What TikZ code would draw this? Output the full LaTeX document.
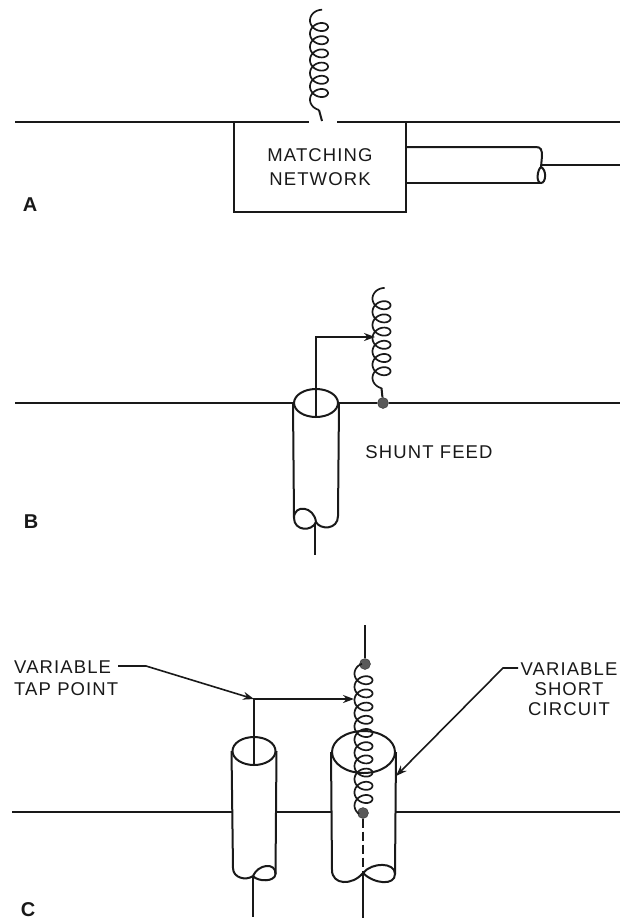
\documentclass[tikz,border=0pt]{standalone}
\usepackage{fontspec}
\setmainfont[LetterSpace=6]{Liberation Sans}
\usetikzlibrary{shapes.geometric,arrows.meta}
\tikzset{
wire/.style={line width=2pt,black!90},
leader/.style={line width=1.6pt,black!90,-{Stealth[length=11pt,width=8pt]}},
lettering/.style={font=\fontsize{18.5}{20}\selectfont,text=black!90,inner sep=0pt,align=center},
tag/.style={font=\fontsize{20}{20}\selectfont\bfseries,text=black!90,inner sep=0pt},
disc/.style={draw,ellipse,line width=2pt,black!90,inner sep=0pt},
feedpoint/.style={circle,fill=black!65,draw=black!80,inner sep=0pt,minimum size=11pt}
}
% #1 axis, #2 height of the first turn, #3 and #4 first and last angle
\newcommand{\coil}[4]{
\draw[wire,line width=1.7pt,domain=#3:#4,samples=300,variable=\t]
plot ({#1+9*cos(\t)},{#2+\t/360*13.2-7*sin(\t)});
}
\begin{document}
\begin{tikzpicture}[x=1pt,y=-1pt]
\useasboundingbox[fill=white] (0,0) rectangle (620,922);

% A
\node[minimum width=172pt,minimum height=90pt,lettering] (network) at (320,167) {MATCHING\\[3.5pt]NETWORK};
\draw[wire] (network.north west) -- (network.south west) -- (network.south east) -- (network.north east);
\coordinate (aLeft) at (15,122);
\coordinate (aGapL) at (309,122);
\coordinate (aGapR) at (337,122);
\coordinate (aRight) at (620,122);
\draw[wire] (aLeft) -- (aGapL);
\draw[wire] (aGapR) -- (aRight);
\coil{319}{13.8}{70}{2430}
\coordinate (aCoilEnd) at (319,110);
\coordinate (aCoilFoot) at (322,121);
\draw[wire] (aCoilEnd) -- (aCoilFoot);
\coordinate (aOuterT) at (406,147);
\coordinate (aOuterB) at (406,183);
\coordinate (aInner) at (620,165);
\draw[wire] (aOuterT) -- (536,147) .. controls (541,147) and (542,150) .. (542,156) -- (541,167)
.. controls (537,170) and (536,183) .. (541,183) .. controls (546,183) and (547,170) .. (541,167);
\draw[wire] (aOuterB) -- (541,183);
\draw[wire] (542,165) -- (aInner);
\node[tag] (tagA) at (30,205) {A};

% B
\node[disc,minimum width=44pt,minimum height=28pt] (discB) at (316,403) {};
\coordinate (bLeft) at (15,403);
\coordinate (bRight) at (620,403);
\node[feedpoint] (shortB) at (383,403) {};
\draw[wire] (bLeft) -- (discB.west);
\draw[wire] (discB.east) -- (shortB) -- (bRight);
\coil{381.5}{292}{70}{2430}
\coordinate (bCoilEnd) at (381.5,388);
\draw[wire] (bCoilEnd) -- (shortB);
\coordinate (bTap) at (375,337);
\coordinate (bBend) at (316,337);
\draw[leader,line width=2pt] (discB.south) -- (bBend) -- (bTap);
\coordinate (bFoot) at (315,555);
\draw[wire] (discB.west) -- (294,518) .. controls (294,504) and (314,506) .. (316,522)
.. controls (320,530) and (338,530) .. (338,516) -- (discB.east);
\draw[wire] (294,518) .. controls (294,531) and (312,532) .. (316,522);
\draw[wire] (315,523) -- (bFoot);
\node[lettering] (shunt) at (429,452) {SHUNT FEED};
\node[tag] (tagB) at (31,522) {B};

% C
\node[disc,minimum width=43pt,minimum height=28pt] (discL) at (254,751) {};
\node[disc,minimum width=63pt,minimum height=42pt] (discR) at (363.5,752) {};
\coordinate (cLeft) at (12,812);
\coordinate (cMidL) at (275,812);
\coordinate (cMidR) at (332,812);
\coordinate (cSideL) at (233,812);
\coordinate (cSideR) at (395,812);
\coordinate (cRight) at (620,812);
\draw[wire] (cLeft) -- (cSideL);
\draw[wire] (cMidL) -- (cMidR);
\draw[wire] (cSideR) -- (cRight);
\draw[wire] (discL.west) -- (233,868) .. controls (233,878) and (246,881) .. (253,876)
.. controls (258,864) and (276,862) .. (275.5,874) .. controls (275,882) and (258,882) .. (253,876);
\draw[wire] (275.5,874) -- (discL.east);
\draw[wire] (discR.west) -- (332,870) .. controls (332,885) and (352,886) .. (363,873)
.. controls (372,862) and (395,862) .. (395,874) .. controls (395,886) and (374,884) .. (363,873);
\draw[wire] (395,874) -- (discR.east);
\coordinate (cFootL) at (253,917);
\coordinate (cFootR) at (363,918);
\coordinate (cTop) at (365,625);
\draw[wire] (253,876) -- (cFootL);
\draw[wire] (363,873) -- (cFootR);
\node[feedpoint] (dotTop) at (365,664) {};
\node[feedpoint] (dotLow) at (363,813) {};
\draw[wire] (cTop) -- (dotTop);
\draw[wire,dash pattern=on 9pt off 4pt] (dotLow) -- (363,873);
\coil{363.5}{667}{100}{3840}
\coordinate (cBend) at (254,699);
\coordinate (cTap) at (354,699);
\draw[leader,line width=2pt] (discL.south) -- (cBend) -- (cTap);
\node[lettering,anchor=west,align=left] (tapLabel) at (14,678) {VARIABLE\\[1.5pt]TAP POINT};
\coordinate (tapStart) at (118,666);
\coordinate (tapLine) at (146,666);
\draw[leader] (tapStart) -- (tapLine) -- (cBend);
\node[lettering] (shortLabel) at (569,689) {VARIABLE\\SHORT\\CIRCUIT};
\coordinate (shortStart) at (518,668);
\coordinate (shortLine) at (503,668);
\coordinate (shortTip) at (396,776);
\draw[leader] (shortStart) -- (shortLine) -- (shortTip);
\node[tag] (tagC) at (28,910) {C};
\end{tikzpicture}
\end{document}
